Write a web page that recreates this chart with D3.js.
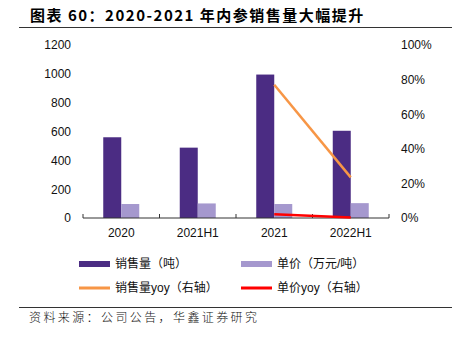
<!DOCTYPE html>
<html>
<head>
<meta charset="utf-8">
<script src="https://cdn.jsdelivr.net/npm/d3@7"></script>
<style>
  body { margin: 0; background: #fff; }
  svg { display: block; }
</style>
</head>
<body>
<svg id="chart" width="458" height="339"></svg>
<script>
// data
var categories = ['2020', '2021H1', '2021', '2022H1'];
var salesVolume = [560, 488, 995, 605];        // 销售量（吨）
var unitPrice = [97, 101, 97, 103];            // 单价（万元/吨）
var volumeYoy = [null, null, 0.77, 0.235];     // 销售量yoy（右轴）
var priceYoy = [null, null, 0.022, 0.003];     // 单价yoy（右轴）
var leftTicks = [0, 200, 400, 600, 800, 1000, 1200];
var rightTicks = [0, 0.2, 0.4, 0.6, 0.8, 1.0];

var svg = d3.select('#chart');
var cjk = '"Liberation Sans", Arial, "Noto Sans CJK SC", sans-serif';

var plot_left = 83, plot_right = 389, plot_top = 45, plot_bottom = 218;
var barW = 18;

var x = d3.scaleBand().domain(categories).range([plot_left, plot_right]);
var yL = d3.scaleLinear().domain([0, 1200]).range([plot_bottom, plot_top]);
var yR = d3.scaleLinear().domain([0, 1]).range([plot_bottom, plot_top]);

var dark = '#4b2c83', light = '#a598ce', orange = '#f79646', red = '#ff0000';

// title
svg.append('text')
  .attr('x', 30).attr('y', 21)
  .style('font-family', '"Noto Sans CJK SC", sans-serif')
  .style('font-weight', 'bold')
  .style('font-size', '15px')
  .style('letter-spacing', '1.5px')
  .text('图表 60：2020-2021 年内参销售量大幅提升');

svg.append('line')
  .attr('x1', 19).attr('x2', 452).attr('y1', 27.5).attr('y2', 27.5)
  .attr('stroke', '#333').attr('stroke-width', 1);

// bars
svg.append('g').selectAll('rect').data(salesVolume).enter().append('rect')
  .attr('x', function(d, i) { return x(categories[i]) + x.bandwidth() / 2 - barW; })
  .attr('y', function(d) { return yL(d); })
  .attr('width', barW)
  .attr('height', function(d) { return yL(0) - yL(d); })
  .attr('fill', dark);

svg.append('g').selectAll('rect').data(unitPrice).enter().append('rect')
  .attr('x', function(d, i) { return x(categories[i]) + x.bandwidth() / 2; })
  .attr('y', function(d) { return yL(d); })
  .attr('width', barW)
  .attr('height', function(d) { return yL(0) - yL(d); })
  .attr('fill', light);

// x axis
var xAxis = d3.axisBottom(x).tickSize(0).tickPadding(10);
var gx = svg.append('g')
  .attr('transform', 'translate(0,' + plot_bottom + ')')
  .call(xAxis);
gx.select('.domain').attr('stroke', '#333').attr('d', 'M' + plot_left + ',-4V0H' + plot_right + 'V-4');
gx.selectAll('text').style('font-size', '12px').style('font-family', cjk).attr('fill', '#111');
gx.selectAll('.inner')
  .data(categories.slice(1)).enter().append('line')
  .attr('x1', function(d) { return x(d); }).attr('x2', function(d) { return x(d); })
  .attr('y1', -4).attr('y2', 0).attr('stroke', '#333');

// left axis
var gl = svg.append('g')
  .attr('transform', 'translate(' + plot_left + ',0)')
  .call(d3.axisLeft(yL).tickValues(leftTicks).tickSize(0).tickPadding(12)
    .tickFormat(d3.format('d')));
gl.select('.domain').remove();
gl.selectAll('text').style('font-size', '12px').style('font-family', cjk).attr('fill', '#111');

// right axis
var gr = svg.append('g')
  .attr('transform', 'translate(' + plot_right + ',0)')
  .call(d3.axisRight(yR).tickValues(rightTicks).tickSize(0).tickPadding(12)
    .tickFormat(d3.format('.0%')));
gr.select('.domain').remove();
gr.selectAll('text').style('font-size', '12px').style('font-family', cjk).attr('fill', '#111');

// lines
var line = d3.line()
  .defined(function(d) { return d.v !== null; })
  .x(function(d) { return x(d.c) + x.bandwidth() / 2; })
  .y(function(d) { return yR(d.v); });

function pts(arr) { return arr.map(function(v, i) { return {c: categories[i], v: v}; }); }

svg.append('path').datum(pts(volumeYoy))
  .attr('d', line).attr('fill', 'none').attr('stroke', orange).attr('stroke-width', 2.5);
svg.append('path').datum(pts(priceYoy))
  .attr('d', line).attr('fill', 'none').attr('stroke', red).attr('stroke-width', 2.5);

// legend
var legend = [
  {label: '销售量（吨）', color: dark, kind: 'bar', x: 79, y: 264},
  {label: '单价（万元/吨）', color: light, kind: 'bar', x: 241, y: 264},
  {label: '销售量yoy（右轴）', color: orange, kind: 'line', x: 79, y: 288},
  {label: '单价yoy（右轴）', color: red, kind: 'line', x: 241, y: 288}
];
var lg = svg.append('g').selectAll('g').data(legend).enter().append('g')
  .attr('transform', function(d) { return 'translate(' + d.x + ',' + d.y + ')'; });
lg.append('rect')
  .attr('x', 0).attr('width', 31)
  .attr('y', function(d) { return d.kind === 'bar' ? -3 : -1.5; })
  .attr('height', function(d) { return d.kind === 'bar' ? 6 : 3; })
  .attr('fill', function(d) { return d.color; });
lg.append('text')
  .attr('x', 36).attr('y', 0).attr('dy', '0.35em')
  .style('font-size', '12px')
  .style('font-family', cjk)
  .attr('fill', '#111')
  .text(function(d) { return d.label; });

// source
svg.append('line')
  .attr('x1', 19).attr('x2', 452).attr('y1', 307.5).attr('y2', 307.5)
  .attr('stroke', '#333').attr('stroke-width', 1);
svg.append('text')
  .attr('x', 29).attr('y', 322)
  .style('font-family', '"Noto Sans CJK SC", sans-serif')
  .style('font-size', '12px')
  .style('font-weight', '300')
  .style('letter-spacing', '2.4px')
  .attr('fill', '#111')
  .text('资料来源：公司公告，华鑫证券研究');
</script>
</body>
</html>
